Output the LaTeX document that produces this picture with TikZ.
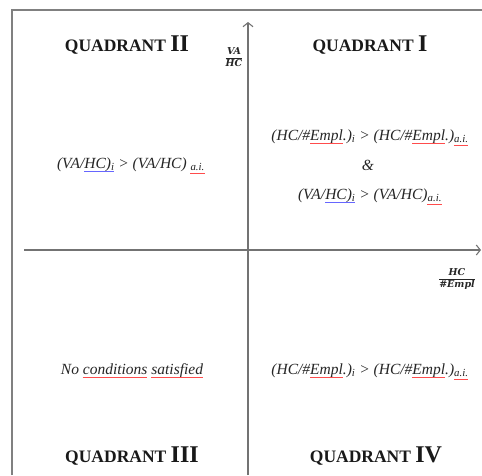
\documentclass[tikz,border=0pt]{standalone}
\usepackage{fontspec}
\setmainfont{Liberation Serif}
\newfontfamily\axfont{DejaVu Serif}
\usetikzlibrary{arrows.meta}
\colorlet{txt}{black!85}
\colorlet{axis}{black!55}
\colorlet{ulred}{red!70}
\colorlet{ulblue}{blue!60}
\newcommand\condfont{\itshape\fontsize{15.5}{18}\selectfont}
\newcommand\QD[1]{{\fontsize{17.5}{20}\selectfont QUADRANT }{\fontsize{24}{26}\selectfont #1}}
\newlength\ulA
\newlength\ulB
% measure: #1 id, #2 text before, #3 underlined text
\newcommand\mkseg[3]{%
  \settowidth\ulA{\condfont #2}\settowidth\ulB{\condfont #3}%
  \expandafter\xdef\csname ulA@#1\endcsname{\the\ulA}%
  \expandafter\xdef\csname ulB@#1\endcsname{\the\ulB}}
% draw: #1 id, #2 node, #3 colour, #4 drop below baseline
\newcommand\useg[4]{%
  \edef\segA{\csname ulA@#1\endcsname}\edef\segB{\csname ulB@#1\endcsname}%
  \draw[#3, line width=0.9pt] ([xshift=\segA, yshift=-#4]#2.base west) -- ++(\segB,0pt);}
\begin{document}
\mkseg{a}{(HC/\#}{Empl}%
\mkseg{b}{(HC/\#Empl.)\textsubscript{i} > (HC/\#}{Empl}%
\mkseg{c}{(HC/\#Empl.)\textsubscript{i} > (HC/\#Empl.)}{\textsubscript{a.i.}}%
\mkseg{d}{(VA/}{HC)\textsubscript{i}}%
\mkseg{e}{(VA/HC)\textsubscript{i} > (VA/HC)}{\textsubscript{a.i.}}%
\mkseg{f}{(VA/HC)\textsubscript{i} > (VA/HC) }{\textsubscript{a.i.}}%
\mkseg{g}{No }{conditions}%
\mkseg{h}{No conditions }{satisfied}%
\begin{tikzpicture}[x=1pt,y=-1pt,
  qlabel/.style={font=\bfseries, text=black!90, inner sep=0pt},
  cond/.style={font=\condfont, text=txt, inner sep=0pt},
  axlab/.style={font=\axfont\bfseries\itshape\fontsize{9.5}{11}\selectfont, text=black!85, inner sep=0pt},
  frameline/.style={draw=black!50, line width=1.4pt},
  axisline/.style={draw=axis, line width=1.1pt}]
\useasboundingbox (0,0) rectangle (482,475);
\fill[white] (0,0) rectangle (482,475);
% frame
\coordinate (fbl) at (12,475);
\coordinate (ftl) at (12,10);
\coordinate (ftr) at (482,10);
\draw[frameline] (fbl) -- (ftl) -- (ftr);
% axes
\coordinate (xs) at (24,250);
\coordinate (xe) at (481,250);
\coordinate (ys) at (248,475);
\coordinate (ye) at (248,22);
\draw[axisline, -{Straight Barb[length=4pt,width=10pt]}] (xs) -- (xe);
\draw[axisline, -{Straight Barb[length=4pt,width=10pt]}] (ys) -- (ye);
% quadrant titles
\node[qlabel] (q2) at (127,45) {\QD{II}};
\node[qlabel] (q1) at (370,45) {\QD{I}};
\node[qlabel] (q3) at (132,456) {\QD{III}};
\node[qlabel] (q4) at (376,456) {\QD{IV}};
% axis labels
\node[axlab] (ylab) at (234,57) {$\displaystyle\frac{\mbox{VA}}{\mbox{HC}}$};
\node[axlab] (xlab) at (457,279) {$\displaystyle\frac{\mbox{HC}}{\mbox{\#Empl}}$};
% conditions
\node[cond] (c1a) at (370,137) {(HC/\#Empl.)\textsubscript{i} > (HC/\#Empl.)\textsubscript{a.i.}};
\node[cond] (c1b) at (368,165) {\&};
\node[cond] (c1c) at (370,196) {(VA/HC)\textsubscript{i} > (VA/HC)\textsubscript{a.i.}};
\node[cond] (c2) at (131,165) {(VA/HC)\textsubscript{i} > (VA/HC) \textsubscript{a.i.}};
\node[cond] (c3) at (132,371) {No conditions satisfied};
\node[cond] (c4) at (370,371) {(HC/\#Empl.)\textsubscript{i} > (HC/\#Empl.)\textsubscript{a.i.}};
% spell-check underlines
\useg{a}{c1a}{ulred}{2.5pt}
\useg{b}{c1a}{ulred}{2.5pt}
\useg{c}{c1a}{ulred}{5pt}
\useg{d}{c1c}{ulblue}{3pt}
\useg{e}{c1c}{ulred}{5pt}
\useg{d}{c2}{ulblue}{3pt}
\useg{f}{c2}{ulred}{5pt}
\useg{g}{c3}{ulred}{3pt}
\useg{h}{c3}{ulred}{3pt}
\useg{a}{c4}{ulred}{2.5pt}
\useg{b}{c4}{ulred}{2.5pt}
\useg{c}{c4}{ulred}{5pt}
\end{tikzpicture}
\end{document}
